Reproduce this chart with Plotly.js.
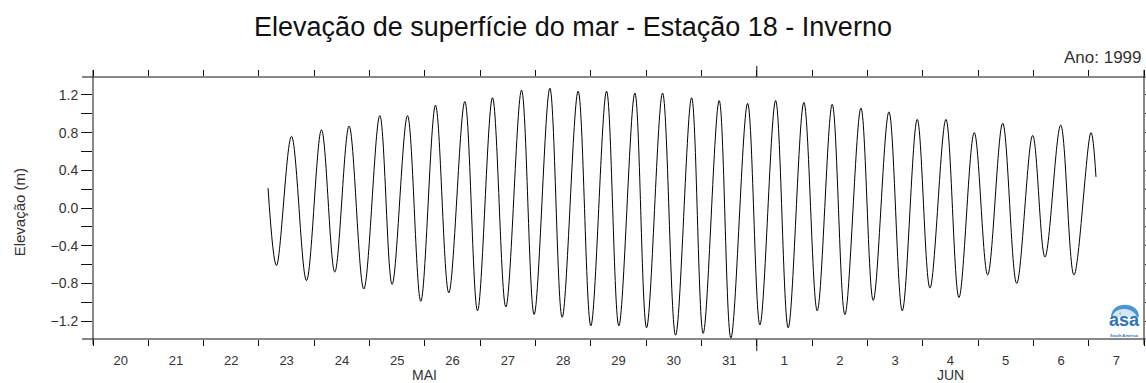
<!DOCTYPE html>
<html>
<head>
<meta charset="utf-8">
<script src="https://cdn.plot.ly/plotly-3.0.1.min.js"></script>
<style>
  html, body { margin: 0; padding: 0; background: #fff; }
  #chart { width: 1146px; height: 383px; }
</style>
</head>
<body>
<div id="chart"></div>
<script>
// Sea-surface elevation, station 18, winter 1999: successive high and low waters (m)
const times = [
  '1999-05-23 03:57','1999-05-23 07:36','1999-05-23 14:07','1999-05-23 20:37',
  '1999-05-24 03:08','1999-05-24 08:54','1999-05-24 15:06','1999-05-24 21:29',
  '1999-05-25 04:26','1999-05-25 09:46','1999-05-25 16:27','1999-05-25 22:13',
  '1999-05-26 04:36','1999-05-26 10:22','1999-05-26 17:19','1999-05-26 22:50',
  '1999-05-27 05:20','1999-05-27 11:07','1999-05-27 17:56','1999-05-27 23:23',
  '1999-05-28 06:13','1999-05-28 11:33','1999-05-28 18:29','1999-05-29 00:00',
  '1999-05-29 06:49','1999-05-29 12:09','1999-05-29 19:06','1999-05-30 00:11',
  '1999-05-30 07:07','1999-05-30 12:46','1999-05-30 19:43','1999-05-31 00:44',
  '1999-05-31 07:41','1999-05-31 12:46','1999-05-31 20:01','1999-06-01 01:21',
  '1999-06-01 08:10','1999-06-01 13:38','1999-06-01 20:26','1999-06-02 02:13',
  '1999-06-02 08:44','1999-06-02 14:14','1999-06-02 21:11','1999-06-03 02:31',
  '1999-06-03 09:20','1999-06-03 15:07','1999-06-03 21:37','1999-06-04 03:08',
  '1999-06-04 10:04','1999-06-04 15:43','1999-06-04 22:21','1999-06-05 04:10',
  '1999-06-05 10:41','1999-06-05 16:46','1999-06-05 23:42','1999-06-06 05:02',
  '1999-06-06 11:51','1999-06-06 17:37','1999-06-07 01:00','1999-06-07 03:10'
];
const elevation = [
   0.21,-0.61, 0.76,-0.77, 0.83,-0.68, 0.87,-0.86, 0.98,-0.81,
   0.98,-0.99, 1.09,-0.90, 1.13,-1.09, 1.17,-1.05, 1.25,-1.13,
   1.27,-1.16, 1.24,-1.25, 1.24,-1.25, 1.22,-1.27, 1.22,-1.35,
   1.17,-1.33, 1.14,-1.38, 1.11,-1.24, 1.14,-1.27, 1.12,-1.09,
   1.10,-1.13, 1.06,-0.98, 1.02,-1.09, 0.94,-0.85, 0.94,-0.95,
   0.80,-0.71, 0.90,-0.80, 0.77,-0.52, 0.88,-0.71, 0.80, 0.33
];

// Time window and month labels
const xStart = '1999-05-20';
const xEnd = '1999-06-08';
const monthBoundary = '1999-06-01';
const months = [
  { x: '1999-05-26 00:00', label: 'MAI' },
  { x: '1999-06-04 12:00', label: 'JUN' }
];

const FONT = 'Liberation Sans, Arial, Helvetica, sans-serif';
const INK = '#111';
const TXT = '#333';
const LOGO_BLUE = '#2f72b6';

const trace = {
  x: times,
  y: elevation,
  type: 'scatter',
  mode: 'lines',
  line: { color: '#000', width: 1, shape: 'spline', smoothing: 1 },
  hoverinfo: 'skip'
};

// Frame lines that run slightly past the corners
const frame = [
  { x0: 0, x1: 0, y0: -0.022, y1: 1.027 },
  { x0: 1, x1: 1, y0: -0.022, y1: 1.027 },
  { x0: -0.0105, x1: 1.003, y0: 1, y1: 1 },
  { x0: -0.0105, x1: 1.003, y0: 0, y1: 0 }
].map(s => Object.assign({ type: 'line', xref: 'paper', yref: 'paper',
  line: { color: INK, width: 1 } }, s));

// Longer tick at the month change, above and below
const monthTicks = [
  { y0: -0.046, y1: 0 },
  { y0: 1, y1: 1.042 }
].map(s => Object.assign({ type: 'line', xref: 'x', yref: 'paper',
  x0: monthBoundary, x1: monthBoundary, line: { color: INK, width: 1 } }, s));

// Logo dome
const logo = [
  { type: 'path', xref: 'paper', yref: 'paper',
    path: 'M 0.9686 0.084 C 0.9686 0.146, 0.9952 0.146, 0.9952 0.084 Z',
    fillcolor: '#4a95d4', line: { width: 0 } },
  { type: 'path', xref: 'paper', yref: 'paper',
    path: 'M 0.9700 0.084 C 0.9712 0.120, 0.9880 0.128, 0.9935 0.084 Z',
    fillcolor: '#d4e7f6', line: { width: 0 } },
  { type: 'circle', xref: 'paper', yref: 'paper',
    x0: 0.9765, x1: 0.9781, y0: 0.094, y1: 0.100,
    fillcolor: '#5bb04a', line: { width: 0 } }
];

const annotations = [
  { text: 'Ano: 1999', xref: 'paper', yref: 'paper', x: 1.0, y: 1.076,
    xanchor: 'right', yanchor: 'middle', showarrow: false,
    font: { family: FONT, size: 17, color: TXT } },
  { text: 'Elevação (m)', xref: 'paper', yref: 'paper', x: -0.0698, y: 0.482,
    xanchor: 'center', yanchor: 'middle', textangle: -90, showarrow: false,
    font: { family: FONT, size: 15, color: TXT } },
  { text: '<b>asa</b>', xref: 'paper', yref: 'paper', x: 0.9819, y: 0.0717,
    xanchor: 'center', yanchor: 'middle', showarrow: false, borderpad: 0,
    font: { family: FONT, size: 18, color: LOGO_BLUE } },
  { text: '<b>South America</b>', xref: 'paper', yref: 'paper', x: 0.9819, y: 0.0135,
    xanchor: 'center', yanchor: 'middle', showarrow: false, borderpad: 0,
    font: { family: FONT, size: 4, color: LOGO_BLUE } }
].concat(months.map(m => ({
  text: m.label, xref: 'x', yref: 'paper', x: m.x, y: -0.137,
  xanchor: 'center', yanchor: 'middle', showarrow: false, borderpad: 0,
  font: { family: FONT, size: 14, color: TXT }
})));

const layout = {
  width: 1146,
  height: 383,
  margin: { l: 93, r: 2, t: 77, b: 44, pad: 0 },
  paper_bgcolor: '#fff',
  plot_bgcolor: '#fff',
  showlegend: false,
  hovermode: false,
  font: { family: FONT, color: TXT },
  title: {
    text: 'Elevação de superfície do mar - Estação 18 - Inverno',
    font: { family: FONT, size: 27, color: INK },
    xref: 'container', x: 0.5, xanchor: 'center',
    yref: 'container', y: 1 - 27 / 383, yanchor: 'middle'
  },
  xaxis: {
    type: 'date',
    range: [xStart, xEnd],
    tick0: xStart,
    dtick: 86400000,
    tickformat: '%-d',
    ticklabelmode: 'period',
    ticks: 'outside',
    ticklen: 6,
    tickcolor: INK,
    mirror: 'ticks',
    showline: false,
    showgrid: false,
    zeroline: false,
    tickfont: { family: FONT, size: 13, color: TXT },
    ticklabelstandoff: 3
  },
  yaxis: {
    range: [-1.39, 1.39],
    tick0: -1.2,
    dtick: 0.4,
    tickformat: '.1f',
    ticks: 'outside',
    ticklen: 11,
    tickcolor: INK,
    mirror: 'ticks',
    showline: false,
    showgrid: false,
    zeroline: false,
    tickfont: { family: FONT, size: 14, color: TXT },
    minor: { dtick: 0.2, tick0: -1.2, ticks: 'outside', ticklen: 11, tickcolor: INK, showgrid: false }
  },
  shapes: frame.concat(monthTicks, logo),
  annotations: annotations
};

Plotly.newPlot('chart', [trace], layout, { staticPlot: true, displayModeBar: false });
</script>
</body>
</html>
